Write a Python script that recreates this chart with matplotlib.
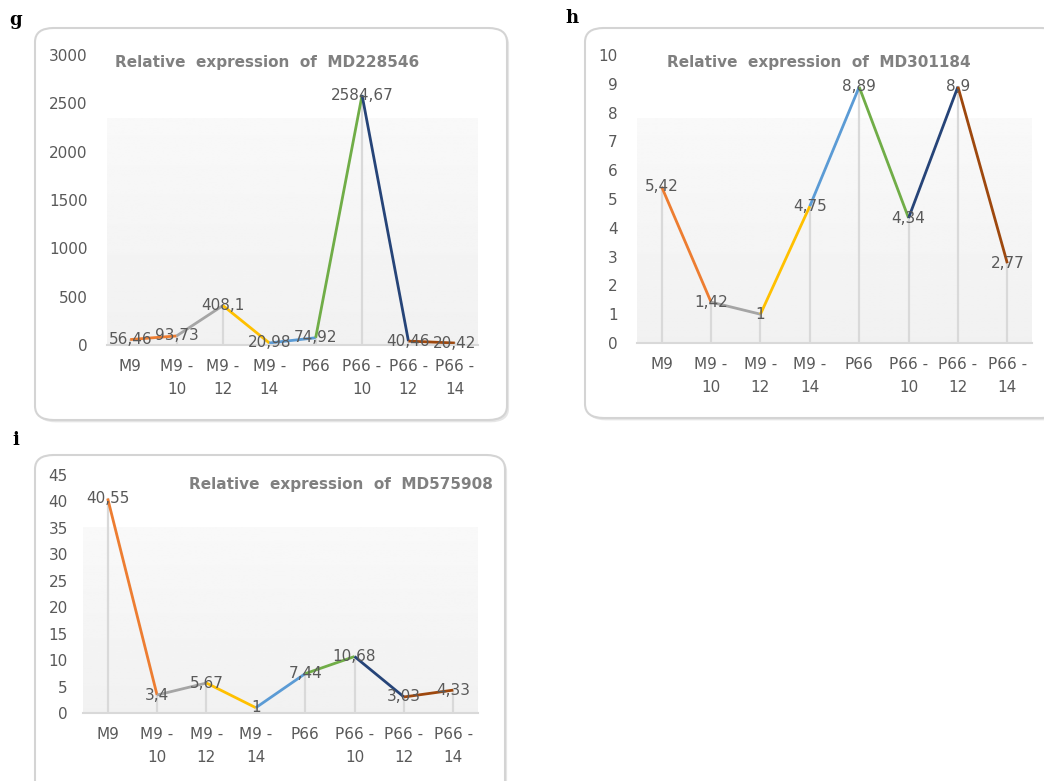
import matplotlib
matplotlib.use('Agg')
import matplotlib.pyplot as plt
from matplotlib.patches import FancyBboxPatch
import numpy as np

categories = ['M9', 'M9 -\n10', 'M9 -\n12', 'M9 -\n14', 'P66', 'P66 -\n10', 'P66 -\n12', 'P66 -\n14']

g_values = [56.46, 93.73, 408.1, 20.98, 74.92, 2584.67, 40.46, 20.42]
h_values = [5.42, 1.42, 1, 4.75, 8.89, 4.34, 8.9, 2.77]
i_values = [40.55, 3.4, 5.67, 1, 7.44, 10.68, 3.03, 4.33]

g_title = 'Relative  expression  of  MD228546'
h_title = 'Relative  expression  of  MD301184'
i_title = 'Relative  expression  of  MD575908'

# Excel "vary colors by point" palette
point_colors = ['#4472C4', '#ED7D31', '#A5A5A5', '#FFC000', '#5B9BD5', '#70AD47', '#264478', '#9E480E']

W, H = 1044, 781
fig = plt.figure(figsize=(W / 100, H / 100), dpi=100)
fig.patch.set_facecolor('white')

text_gray = '#595959'
axis_gray = '#d9d9d9'


def px_box(x0, y0, x1, y1):
    return [x0 / W, 1 - y1 / H, (x1 - x0) / W, (y1 - y0) / H]


def draw_frame(x0, y0, x1, y1):
    # soft shadow + light border, rounded corners
    sh = FancyBboxPatch((x0 / W + 0.002, 1 - y1 / H - 0.003), (x1 - x0) / W, (y1 - y0) / H,
                        boxstyle='round,pad=0,rounding_size=0.018', transform=fig.transFigure,
                        facecolor='#e6e6e6', edgecolor='none', zorder=-2)
    fig.patches.append(sh)
    fr = FancyBboxPatch((x0 / W, 1 - y1 / H), (x1 - x0) / W, (y1 - y0) / H,
                        boxstyle='round,pad=0,rounding_size=0.018', transform=fig.transFigure,
                        facecolor='white', edgecolor='#d4d4d4', linewidth=1.5, zorder=-1)
    fig.patches.append(fr)


def panel(rect, values, ymax, ystep, title, title_xy, pad):
    ax = fig.add_axes(rect)
    ax.set_facecolor('none')
    x = np.arange(len(values))

    grad = np.linspace(0.945, 0.975, 100).reshape(-1, 1)
    ax.imshow(grad, cmap='gray', vmin=0, vmax=1, extent=[0, 1, 0, 0.78],
              transform=ax.transAxes, aspect='auto', zorder=0, origin='lower')

    for xi, v in zip(x, values):
        ax.plot([xi, xi], [0, v], color=axis_gray, linewidth=1.6, zorder=1)

    for k in range(len(values) - 1):
        ax.plot(x[k:k + 2], values[k:k + 2], color=point_colors[k + 1],
                linewidth=2.0, solid_capstyle='butt', zorder=2)

    for xi, v in zip(x, values):
        ax.text(xi, v, f'{v:g}'.replace('.', ','), ha='center', va='center',
                fontsize=11, color=text_gray, zorder=3)

    ax.set_xlim(-0.5, len(values) - 0.5)
    ax.set_ylim(0, ymax)
    ax.set_yticks(np.arange(0, ymax + ystep / 2, ystep))
    ax.set_xticks(x)
    ax.set_xticklabels(categories, linespacing=1.7)
    ax.tick_params(axis='both', length=0, labelsize=11, labelcolor=text_gray)
    ax.tick_params(axis='y', pad=pad)
    ax.tick_params(axis='x', pad=10)
    for s in ['top', 'right', 'left']:
        ax.spines[s].set_visible(False)
    ax.spines['bottom'].set_color(axis_gray)
    ax.spines['bottom'].set_linewidth(1.5)

    fig.text(title_xy[0] / W, 1 - title_xy[1] / H, title, ha='center', va='center',
             fontsize=11, fontweight='bold', color='#808080')
    return ax


draw_frame(35, 28, 507, 420)
draw_frame(585, 28, 1060, 418)
draw_frame(35, 455, 505, 800)

panel(px_box(107, 55, 478, 345), g_values, 3000, 500, g_title, (267, 62), 14)
panel(px_box(637, 55, 1032, 343), h_values, 10, 1, h_title, (819, 62), 14)
panel(px_box(83, 475, 478, 713), i_values, 45, 5, i_title, (341, 485), 11)

for lab, (lx, ly) in zip(['g', 'h', 'i'], [(16, 20), (572, 18), (16, 440)]):
    fig.text(lx / W, 1 - ly / H, lab, ha='center', va='center', fontsize=13,
             fontweight='bold', family='DejaVu Serif', color='black')

fig.savefig('out.png', dpi=100)
